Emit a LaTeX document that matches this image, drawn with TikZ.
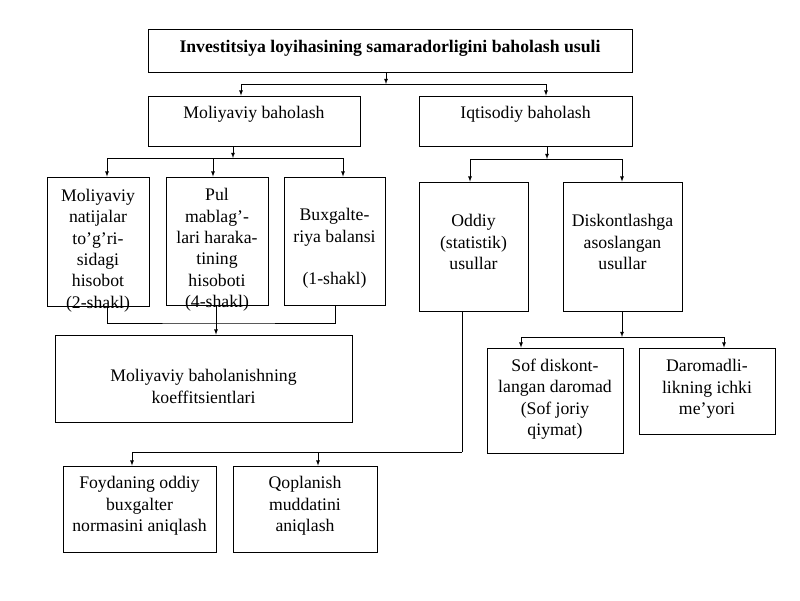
\documentclass[tikz,border=0pt]{standalone}
\usepackage{fontspec}
\setmainfont{Liberation Serif}
\usetikzlibrary{calc,positioning,arrows}
\tikzset{
box/.style={
  draw, rectangle,
  line width=0.8pt,
  inner sep=0pt
},
txt/.style={
  align=center,
  inner sep=0pt,
  font=\fontsize{17.7}{21.4}\selectfont
},
arr/.style={-latex, line width=0.8pt},
ln/.style={line width=0.8pt},
}

\begin{document}
\begin{tikzpicture}[x=1pt,y=-1pt]
\useasboundingbox (0,0) rectangle (800,600);
% boxes, text as centre labels
\node[box, minimum width=484pt, minimum height=43pt,
  label={[txt, font=\bfseries\fontsize{17.7}{21.4}\selectfont, yshift=2pt]center:{Investitsiya loyihasining samaradorligini baholash usuli}}]
  (usul) at (390,50.5) {};
\node[box, minimum width=212pt, minimum height=50pt,
  label={[txt, yshift=7pt]center:{Moliyaviy baholash}}] (molb) at (254,121) {};
\node[box, minimum width=213pt, minimum height=50pt,
  label={[txt, yshift=7pt]center:{Iqtisodiy baholash}}] (iqtb) at (525.5,121) {};

\node[box, minimum width=102pt, minimum height=129pt,
  label={[txt, yshift=-9pt]center:{Moliyaviy\\natijalar\\to’g’ri-\\sidagi\\hisobot\\(2-shakl)}}]
  (hisob1) at (98,241.5) {};
\node[box, minimum width=102pt, minimum height=128pt,
  label={[txt, yshift=-9pt]center:{Pul\\mablag’-\\lari haraka-\\tining\\hisoboti\\(4-shakl)}}]
  (hisob2) at (217,241) {};
\node[box, minimum width=101pt, minimum height=128pt,
  label={[txt, yshift=-7.5pt]center:{Buxgalte-\\riya balansi\\~\\(1-shakl)}}]
  (hisob3) at (334.5,241) {};
\node[box, minimum width=297pt, minimum height=87pt,
  label={[txt, yshift=-8pt]center:{Moliyaviy baholanishning\\koeffitsientlari}}]
  (koef) at (203.5,378.5) {};

\node[box, minimum width=109pt, minimum height=129pt,
  label={[txt, yshift=4.5pt]center:{Oddiy\\(statistik)\\usullar}}]
  (oddiy) at (473.5,246.5) {};
\node[box, minimum width=119pt, minimum height=129pt,
  label={[txt, yshift=4.5pt]center:{Diskontlashga\\asoslangan\\usullar}}]
  (disk) at (622.5,246.5) {};
\node[box, minimum width=136pt, minimum height=105pt,
  label={[txt, yshift=1.5pt]center:{Sof diskont-\\langan daromad\\(Sof joriy\\qiymat)}}]
  (sof) at (555,400.5) {};
\node[box, minimum width=136pt, minimum height=86pt,
  label={[txt, yshift=2pt]center:{Daromadli-\\likning ichki\\me’yori}}]
  (ichki) at (707,391) {};
\node[box, minimum width=153pt, minimum height=86pt,
  label={[txt, yshift=3pt]center:{Foydaning oddiy\\buxgalter\\normasini aniqlash}}]
  (foyda) at (139.5,509) {};
\node[box, minimum width=144pt, minimum height=86pt,
  label={[txt, yshift=3pt]center:{Qoplanish\\muddatini\\aniqlash}}]
  (qopl) at (305,509) {};

% connectors
\coordinate (t1) at (386,84);
\draw[arr] (usul.south -| t1) -- (t1);
\draw[arr] (t1) -| (molb.north -| 241,0);
\draw[arr] (t1) -| (iqtb.north -| 546,0);

\coordinate (t2) at (233,158);
\draw[arr] (molb.south -| t2) -- (t2);
\draw[arr] (t2) -| (hisob1.north -| 107,0);
\draw[arr] (t2) -| (hisob2.north -| 213,0);
\draw[arr] (t2) -| (hisob3.north -| 343,0);

\coordinate (t3) at (216,323);
\draw[ln] (hisob1.south -| 107,0) |- (t3) -| (hisob3.south -| 335,0);
\draw[arr] (hisob2.south -| t3) -- (koef.north -| t3);

\coordinate (t4) at (547,159);
\draw[arr] (iqtb.south -| t4) -- (t4);
\draw[arr] (t4) -| (oddiy.north -| 470,0);
\draw[arr] (t4) -| (disk.north -| 622,0);

\coordinate (t5) at (622,337);
\draw[arr] (disk.south -| t5) -- (t5);
\draw[arr] (t5) -| (sof.north -| 521,0);
\draw[arr] (t5) -| (ichki.north -| 724,0);

\coordinate (t6) at (462,452);
\draw[ln] (oddiy.south -| t6) -- (t6);
\draw[arr] (t6) -| (foyda.north -| 132,0);
\draw[arr] (t6) -| (qopl.north -| 318,0);
\end{tikzpicture}
\end{document}
